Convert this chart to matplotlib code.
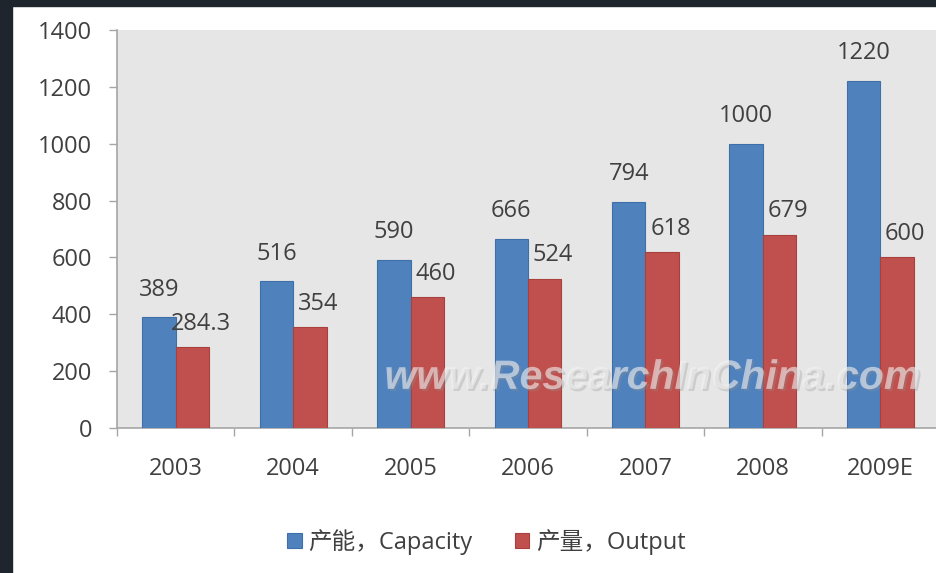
import matplotlib.pyplot as plt
import matplotlib.patheffects as pe
from matplotlib.patches import Rectangle
import numpy as np

years = ['2003', '2004', '2005', '2006', '2007', '2008', '2009E']
capacity = [389, 516, 590, 666, 794, 1000, 1220]
output = [284.3, 354, 460, 524, 618, 679, 600]
capacity_labels = ['389', '516', '590', '666', '794', '1000', '1220']
output_labels = ['284.3', '354', '460', '524', '618', '679', '600']
legend_names = ['产能，Capacity', '产量，Output']

blue = '#4f81bd'
red = '#c0504d'
txt = '#404040'
axc = '#a6a6a6'
fs = 17

plt.rcParams['font.family'] = ['Open Sans', 'Noto Sans CJK SC', 'DejaVu Sans']

fig = plt.figure(figsize=(9.36, 5.73), dpi=100, facecolor='white')
ax = fig.add_axes([117 / 936, 145 / 573, 822 / 936, 398 / 573])
ax.set_facecolor('#e6e6e6')

x = np.arange(len(years))
w = 0.285
b1 = ax.bar(x - w / 2, capacity, w, color=blue, edgecolor='#3f6fa8', linewidth=0.8, label=legend_names[0], zorder=3)
b2 = ax.bar(x + w / 2, output, w, color=red, edgecolor='#a8403d', linewidth=0.8, label=legend_names[1], zorder=3)

for xi, v, s in zip(x, capacity, capacity_labels):
    ax.annotate(s, (xi - w / 2, v), xytext=(0, 20), textcoords='offset points',
                ha='center', va='center', fontsize=fs, color=txt, zorder=5)
for xi, v, s in zip(x, output, output_labels):
    ax.annotate(s, (xi + w / 2, v), xytext=(6, 17), textcoords='offset points',
                ha='center', va='center', fontsize=fs, color=txt, zorder=5)

ax.set_xlim(-0.5, len(years) - 0.5)
ax.set_ylim(0, 1400)
ax.set_yticks(range(0, 1401, 200))
ax.tick_params(axis='y', direction='out', length=6, width=1, color=axc, pad=12,
               labelsize=fs, labelcolor=txt)

ax.set_xticks(np.arange(-0.5, len(years)), minor=False)
ax.set_xticklabels([])
ax.set_xticks(x, minor=True)
ax.set_xticklabels(years, minor=True)
ax.tick_params(axis='x', which='major', direction='out', length=6, width=1, color=axc)
ax.tick_params(axis='x', which='minor', length=0, pad=21, labelsize=fs, labelcolor=txt)

for s in ['top', 'right']:
    ax.spines[s].set_visible(False)
for s in ['left', 'bottom']:
    ax.spines[s].set_color(axc)
    ax.spines[s].set_linewidth(1.2)

# watermark
ax.text(0.977, 0.126, 'www.ResearchInChina.com', transform=ax.transAxes,
        ha='right', va='center', fontsize=29.5, fontweight='bold', fontstyle='italic',
        family='Liberation Sans', color='#f2f2f2', alpha=0.6, zorder=6,
        path_effects=[pe.withSimplePatchShadow(offset=(1.5, -1.5), shadow_rgbFace='#909090', alpha=0.3)])

fig.legend(handles=[b1, b2], loc='center', bbox_to_anchor=(0.52, 0.054), ncol=2,
           frameon=False, fontsize=fs, labelcolor=txt, handlelength=0.6, handleheight=0.6,
           handletextpad=0.3, columnspacing=1.8)

# dark border strips of the screenshot
fig.add_artist(Rectangle((0, 1 - 6 / 573), 1, 6 / 573, transform=fig.transFigure,
                         color='#1f252d', zorder=10))
fig.add_artist(Rectangle((0, 0), 12 / 936, 1, transform=fig.transFigure,
                         color='#1f252d', zorder=10))

fig.savefig('out.png', dpi=100, facecolor='white')
